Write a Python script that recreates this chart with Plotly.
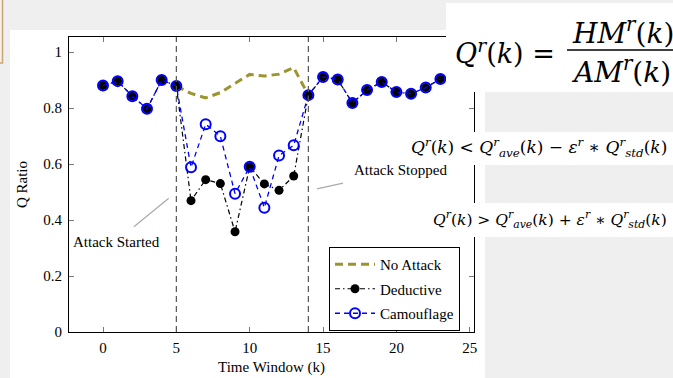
import plotly.graph_objects as go

# ---------------- data ----------------
time_window = list(range(24))
deductive = [0.880, 0.896, 0.842, 0.797, 0.900, 0.879, 0.469, 0.544, 0.530, 0.358,
             0.590, 0.529, 0.506, 0.557, 0.846, 0.911, 0.902, 0.818, 0.864, 0.893,
             0.857, 0.851, 0.873, 0.904]
camouflage = [0.880, 0.896, 0.842, 0.797, 0.900, 0.879, 0.588, 0.742, 0.699, 0.494,
              0.590, 0.444, 0.630, 0.667, 0.846, 0.911, 0.902, 0.818, 0.864, 0.893,
              0.857, 0.851, 0.873, 0.904]
no_attack_window = [5, 6, 7, 8, 9, 10, 11, 12, 13, 14]
no_attack = [0.879, 0.852, 0.836, 0.855, 0.888, 0.920, 0.914, 0.921, 0.944, 0.846]
attack_start = 5
attack_stop = 14
x_ticks = [0, 5, 10, 15, 20, 25]
y_ticks = [0, 0.2, 0.4, 0.6, 0.8, 1]
y_tick_labels = ["0", "0.2", "0.4", "0.6", "0.8", "1"]

# ---------------- layout helpers ----------------
W, H = 673, 378
L, R, T, B = 69, 474, 37, 332
def px(x):
    return (x - L) / (R - L)
def py(y):
    return (B - y) / (B - T)

SERIF = "Liberation Serif, Times New Roman, serif"
MATH = "DejaVu Serif, serif"
GRAY_BG = "#efefef"

fig = go.Figure()

fig.add_trace(go.Scatter(
    x=no_attack_window, y=no_attack, name="No Attack", mode="lines",
    line=dict(color="#9a952c", width=3, dash="8px,5px"),
    legendgroup="a"))
fig.add_trace(go.Scatter(
    x=time_window, y=deductive, name="Deductive", mode="lines+markers",
    line=dict(color="black", width=1.2, dash="5px,3px,1.5px,3px"),
    marker=dict(symbol="circle", size=9, color="black"),
    legendgroup="b"))
fig.add_trace(go.Scatter(
    x=time_window, y=camouflage, name="Camouflage", mode="lines+markers",
    line=dict(color="#0000ff", width=1.3, dash="5px,4px"),
    marker=dict(symbol="circle-open", size=10, color="#0000ff", line=dict(width=2)),
    legendgroup="c"))

shapes = []
# white slide panel
shapes.append(dict(type="rect", xref="paper", yref="paper", layer="below",
                   x0=px(10), x1=px(485), y0=py(30), y1=py(400),
                   fillcolor="white", line=dict(width=0)))
# tan box at top-left
shapes.append(dict(type="rect", xref="paper", yref="paper", layer="below",
                   x0=px(-20), x1=px(2.5), y0=py(-10), y1=py(63),
                   fillcolor="#f8f1e6", line=dict(color="#c9a475", width=1.5)))
# attack markers
for xv in (attack_start, attack_stop):
    shapes.append(dict(type="line", xref="x", yref="paper", x0=xv, x1=xv, y0=0, y1=1,
                       line=dict(color="#555555", width=1.2, dash="6px,4px")))
# annotation pointer lines
shapes.append(dict(type="line", xref="x", yref="y", x0=2.11, y0=0.376, x1=4.48, y1=0.4775,
                   line=dict(color="#aaaaaa", width=1.2)))
shapes.append(dict(type="line", xref="x", yref="y", x0=14.59, y0=0.511, x1=16.36, y1=0.532,
                   line=dict(color="#aaaaaa", width=1.2)))
# overlaid equation boxes and gray slide area
shapes.append(dict(type="rect", xref="paper", yref="paper", layer="above",
                   x0=px(485), x1=px(700), y0=py(92), y1=py(400),
                   fillcolor=GRAY_BG, line=dict(width=0)))
shapes.append(dict(type="rect", xref="paper", yref="paper", layer="above",
                   x0=px(446), x1=px(700), y0=py(3), y1=py(92),
                   fillcolor="white", line=dict(width=0)))
shapes.append(dict(type="rect", xref="paper", yref="paper", layer="above",
                   x0=px(340), x1=px(700), y0=py(132), y1=py(165),
                   fillcolor="white", line=dict(width=0)))
shapes.append(dict(type="rect", xref="paper", yref="paper", layer="above",
                   x0=px(340), x1=px(700), y0=py(203), y1=py(237),
                   fillcolor="white", line=dict(width=0)))
# fraction bar
shapes.append(dict(type="line", xref="paper", yref="paper", layer="above",
                   x0=px(567), x1=px(700), y0=py(50), y1=py(50),
                   line=dict(color="black", width=1.3)))

annotations = [
    dict(x=0.95, y=0.321, xref="x", yref="y", text="Attack Started", showarrow=False,
         font=dict(family=SERIF, size=15, color="black")),
    dict(x=20.3, y=0.579, xref="x", yref="y", text="Attack Stopped", showarrow=False,
         font=dict(family=SERIF, size=15, color="black")),
    dict(x=px(557), y=py(52), xref="paper", yref="paper", xanchor="right", yanchor="middle",
         text="<i>Q<sup>r</sup></i>(<i>k</i>) =", showarrow=False,
         font=dict(family=MATH, size=27, color="black")),
    dict(x=px(570), y=py(31), xref="paper", yref="paper", xanchor="left", yanchor="middle",
         text="<i>HM<sup>r</sup></i>(<i>k</i>)", showarrow=False,
         font=dict(family=MATH, size=28, color="black")),
    dict(x=px(569), y=py(70), xref="paper", yref="paper", xanchor="left", yanchor="middle",
         text="<i>AM<sup>r</sup></i>(<i>k</i>)", showarrow=False,
         font=dict(family=MATH, size=28, color="black")),
    dict(x=px(669), y=py(147), xref="paper", yref="paper", xanchor="right", yanchor="middle",
         text="<i>Q<sup>r</sup></i>(<i>k</i>) &lt; <i>Q<sup>r</sup><sub>ave</sub></i>(<i>k</i>) − "
              "<i>ε<sup>r</sup></i> ∗ <i>Q<sup>r</sup><sub>std</sub></i>(<i>k</i>)",
         showarrow=False, font=dict(family=MATH, size=17, color="black")),
    dict(x=px(669), y=py(219), xref="paper", yref="paper", xanchor="right", yanchor="middle",
         text="<i>Q<sup>r</sup></i>(<i>k</i>) &gt; <i>Q<sup>r</sup><sub>ave</sub></i>(<i>k</i>) + "
              "<i>ε<sup>r</sup></i> ∗ <i>Q<sup>r</sup><sub>std</sub></i>(<i>k</i>)",
         showarrow=False, font=dict(family=MATH, size=15.5, color="black")),
]

axis_common = dict(showline=True, linecolor="black", linewidth=1, mirror="allticks",
                   ticks="inside", ticklen=5, tickcolor="#777777", tickwidth=1,
                   showgrid=False, zeroline=False, automargin=False,
                   tickfont=dict(family=SERIF, size=15, color="black"))

fig.update_layout(
    width=W, height=H, autosize=False,
    margin=dict(l=L, r=W - R, t=T, b=H - B, pad=0),
    paper_bgcolor=GRAY_BG, plot_bgcolor="white",
    font=dict(family=SERIF, color="black"),
    xaxis=dict(range=[-2.318, 25.29], tickvals=x_ticks, ticklabelstandoff=2,
               title=dict(text="Time Window (k)", font=dict(family=SERIF, size=15), standoff=6),
               **axis_common),
    yaxis=dict(range=[0, 1.0536], tickvals=y_ticks, ticktext=y_tick_labels, ticklabelstandoff=3,
               title=dict(text="Q Ratio", font=dict(family=SERIF, size=15), standoff=12),
               **axis_common),
    legend=dict(x=px(329), y=py(247), xanchor="left", yanchor="top",
                bgcolor="white", bordercolor="black", borderwidth=1,
                font=dict(family=SERIF, size=15, color="black"),
                tracegroupgap=2, itemwidth=40),
    shapes=shapes, annotations=annotations,
    showlegend=True,
)

fig.write_html("out.html", config={"displayModeBar": False},
               post_script="document.body.style.margin='0';document.body.style.overflow='hidden';")
